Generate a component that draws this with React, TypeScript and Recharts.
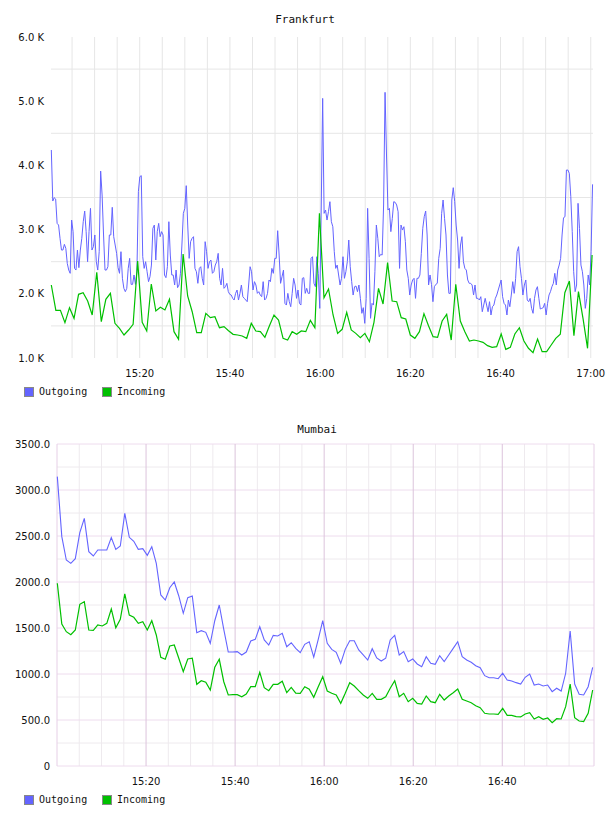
import React from 'react';
import { LineChart, Line, XAxis, YAxis, CartesianGrid, ReferenceLine } from 'recharts';

// ---------- shared labels ----------
const SERIES_NAMES = ['Outgoing', 'Incoming'];
const TIME_TICKS = [20, 40, 60, 80, 100, 120]; // minutes after 15:00
const TIME_TICK_LABELS = ['15:20', '15:40', '16:00', '16:20', '16:40', '17:00'];
const MINOR_TIMES = [5, 10, 15, 20, 25, 30, 35, 40, 45, 50, 55, 60, 65, 70, 75, 80, 85, 90, 95, 100, 105, 110, 115, 120];
const MUMBAI_MAJOR_TIMES = [20, 40, 60, 80, 100];
const MUMBAI_MINOR_TIMES = [5, 10, 15, 25, 30, 35, 45, 50, 55, 65, 70, 75, 85, 90, 95, 105, 110, 115];

// ---------- Frankfurt ----------
const FRANKFURT_Y_TICKS = [1000, 2000, 3000, 4000, 5000, 6000];
const FRANKFURT_Y_GRID = [1500, 2500, 3500, 4500, 5500];

const frankfurtOutFirstHour = [
  4240, 3445, 3497, 3476, 3097, 3071, 2864, 2682, 2682, 2770,
  2708, 2474, 2370, 2319, 3149, 2968, 2396, 2370, 2682, 2407,
  2682, 2864, 3123, 3289, 2968, 2500, 2968, 3331, 2682, 2734,
  2916, 2500, 2370, 2656, 3912, 3539, 2916, 2370, 2370, 2422,
  2916, 2916, 3347, 2890, 2760, 2630, 2407, 2319, 2656, 2241,
  2085, 2033, 2085, 2396, 2552, 2147, 2147, 2293, 2147, 2344,
  3591, 3824, 3840, 2578, 2396, 2500, 2344, 2189, 2267, 2448,
  3019, 3071, 2526, 2968, 3097, 2890, 2968, 2916, 2293, 2251,
  2422, 3123, 2604, 2293, 2293, 2137, 2370, 2095, 2137, 2319,
  2760, 3253, 3331, 3684, 3071, 2552, 2812, 2864, 2890, 2396,
  2344, 2163, 2396, 2422, 2241, 2137, 2812, 2656, 2396, 2500,
  2526, 2319, 2344, 2448, 2500, 2630, 2241, 2137, 2396, 2085,
  2111, 2163, 2033, 1991, 1981, 1929, 1903, 2007, 2059, 1903,
  2007, 2137, 1955, 1929, 1903, 1877, 2137, 2422, 2344, 2059,
  2189, 2137, 2007, 2033, 1981, 1955, 2189, 1903, 1929, 2007,
  2215, 2189, 2396, 2319, 2552, 2552, 2983, 2604, 2163, 2267,
  2370, 1851, 1825, 2007, 1877, 1799, 2007, 2241, 2137, 1929,
  2059, 1851, 1825, 2241, 2251, 2007, 2085, 2007, 2007, 2552,
  2578, 2163, 2111, 2578, 2319, 1773, 3305, 5044,
];
const frankfurtOutSecondHour = [
  3253, 3305, 3149, 3279, 3435, 3123, 3045, 2656, 2396, 2448,
  2293, 2137, 2241, 2578, 2241, 2344, 2500, 2838, 2422, 2189,
  1981, 2111, 2121, 2033, 2137, 1929, 1696, 1784, 1540, 1929,
  3331, 2552, 1618, 1851, 1825, 2344, 3071, 2864, 2578, 2614,
  2604, 3383, 5138, 4162, 3305, 3331, 2968, 3175, 3435, 3424,
  3383, 3279, 2396, 3071, 2993, 3045, 2812, 2370, 2241, 1981,
  2137, 2215, 2241, 1929, 2241, 2241, 2293, 2630, 3019, 3201,
  3289, 2916, 2137, 2293, 2147, 1877, 2111, 2147, 2163, 2552,
  2708, 3253, 3461, 3175, 2916, 2293, 2007, 2007, 3461, 3653,
  3435, 3071, 2838, 2396, 2760, 2890, 2500, 2396, 2370, 2215,
  2163, 2163, 2137, 1981, 2137, 1929, 1929, 1903, 1955, 1721,
  1825, 1929, 1825, 1721, 1877, 1670, 1799, 1825, 1929, 1981,
  2059, 2137, 2215, 1955, 1851, 1825, 1670, 1903, 1799, 1981,
  2189, 2007, 2241, 2656, 2734, 2422, 2241, 1981, 2137, 2215,
  1903, 1877, 1929, 1773, 1696, 1929, 2059, 2111, 1929, 1763,
  1773, 1784, 1851, 1670, 1851, 1981, 2033, 2111, 2163, 2319,
  2137, 2370, 2448, 2552, 2916, 3185, 3201, 3928, 3928, 3876,
  3513, 2968, 2344, 2033, 2137, 3409, 3019, 2448, 2344, 2137,
  1773, 1929, 2293, 2137, 2656, 3705,
];
const frankfurtInFirstHour = [
  2137, 1743, 1743, 1550, 1784, 1618, 1992, 2017, 1888, 1670,
  2335, 1566, 1914, 2007, 1540, 1462, 1358, 1436, 1524, 2511,
  1556, 1421, 2153, 1732, 1789, 1748, 1914, 1410, 1291, 2620,
  1966, 1721, 1394, 1394, 1696, 1628, 1643, 1472, 1488, 1425,
  1369, 1358, 1343, 1307, 1540, 1421, 1410, 1322, 1503, 1670,
  1592, 1307, 1280, 1410, 1369, 1421, 1410, 1587, 1472, 3254,
];
const frankfurtInSecondHour = [
  1939, 2075, 1670, 1384, 1447, 1712, 1436, 1384, 1317, 1384,
  1254, 1556, 2085, 1841, 2485, 1888, 1877, 1628, 1607, 1358,
  1307, 1410, 1691, 1503, 1332, 1322, 1576, 1680, 1280, 2148,
  1576, 1410, 1265, 1280, 1265, 1244, 1192, 1166, 1177, 1374,
  1135, 1166, 1374, 1472, 1265, 1151, 1083, 1296, 1099, 1099,
  1202, 1307, 1369, 2017, 2199, 1348, 2033, 1618, 1151, 2604,
];

// ---------- Mumbai ----------
const MUMBAI_Y_TICKS = [0, 500, 1000, 1500, 2000, 2500, 3000, 3500];
const MUMBAI_Y_MINOR = [250, 750, 1250, 1750, 2250, 2750, 3250];

const mumbaiOutFirstHour = [
  3145, 2493, 2239, 2203, 2254, 2536, 2692, 2330, 2283, 2348,
  2348, 2348, 2482, 2355, 2391, 2747, 2486, 2442, 2355, 2362,
  2290, 2384, 2203, 1859, 1804, 1938, 2000, 1848, 1660, 1830,
  1848, 1449, 1471, 1453, 1334, 1579, 1750, 1486, 1239, 1239,
  1243, 1207, 1239, 1359, 1377, 1514, 1370, 1315, 1420, 1413,
  1442, 1297, 1340, 1279, 1232, 1323, 1351, 1182, 1377, 1579,
];
const mumbaiOutSecondHour = [
  1333, 1268, 1236, 1116, 1268, 1362, 1362, 1261, 1207, 1152,
  1275, 1174, 1141, 1171, 1370, 1420, 1207, 1243, 1134, 1163,
  1109, 1080, 1188, 1116, 1105, 1199, 1134, 1207, 1279, 1351,
  1188, 1152, 1127, 1090, 1069, 982, 960, 960, 949, 1008,
  935, 924, 906, 891, 964, 1000, 880, 891, 870, 880,
  808, 845, 815, 1008, 1467, 891, 779, 772, 862, 1073,
];
const mumbaiInFirstHour = [
  1986, 1543, 1460, 1427, 1478, 1757, 1786, 1478, 1475, 1533,
  1522, 1551, 1707, 1503, 1594, 1870, 1641, 1616, 1551, 1569,
  1478, 1579, 1424, 1182, 1160, 1304, 1315, 1171, 1025, 1163,
  1171, 888, 927, 910, 826, 1073, 1160, 916, 772, 775,
  775, 753, 783, 862, 862, 1018, 851, 819, 888, 888,
  921, 797, 855, 793, 790, 862, 834, 747, 862, 971,
];
const mumbaiInSecondHour = [
  815, 790, 772, 681, 790, 906, 870, 819, 772, 736,
  790, 725, 725, 753, 845, 927, 753, 790, 699, 736,
  681, 674, 761, 699, 688, 779, 717, 761, 797, 837,
  725, 706, 688, 655, 634, 573, 565, 565, 562, 627,
  551, 551, 536, 533, 565, 580, 511, 536, 507, 522,
  471, 514, 511, 645, 891, 525, 489, 482, 573, 826,
];

// sample times (minutes after 15:00) of first and last sample of each series
const FRANKFURT_OUT_SPAN = [0.4, 120.4];
const FRANKFURT_IN_SPAN = [0.4, 120.3];
const MUMBAI_SPAN = [0.07, 120.3];

const series = (values: number[], span: number[]) =>
  values.map((v, i) => ({ t: span[0] + (i * (span[1] - span[0])) / (values.length - 1), v }));

const frankfurtOut = series([...frankfurtOutFirstHour, ...frankfurtOutSecondHour], FRANKFURT_OUT_SPAN);
const frankfurtIn = series([...frankfurtInFirstHour, ...frankfurtInSecondHour], FRANKFURT_IN_SPAN);
const mumbaiOut = series([...mumbaiOutFirstHour, ...mumbaiOutSecondHour], MUMBAI_SPAN);
const mumbaiIn = series([...mumbaiInFirstHour, ...mumbaiInSecondHour], MUMBAI_SPAN);

const OUT_COLOR = '#6464ff';
const IN_COLOR = '#00c000';

const timeLabel = (t: number) => {
  const i = TIME_TICKS.indexOf(t);
  return i >= 0 ? TIME_TICK_LABELS[i] : '';
};

const tickStyle = { fontSize: 10, fontFamily: 'DejaVu Sans', fill: '#111' };

const Title = ({ text, top, center }: { text: string; top: number; center: number }) => (
  <div
    style={{
      position: 'absolute', top, left: center - 100, width: 200, textAlign: 'center',
      fontFamily: 'DejaVu Sans Mono', fontSize: 11, lineHeight: '13px', color: '#111',
    }}
  >
    {text}
  </div>
);

const LegendBox = ({ top }: { top: number }) => {
  const items = [
    { name: SERIES_NAMES[0], color: OUT_COLOR, x: 24 },
    { name: SERIES_NAMES[1], color: IN_COLOR, x: 102 },
  ];
  return (
    <>
      {items.map((it) => (
        <React.Fragment key={it.name}>
          <div
            style={{
              position: 'absolute', top: top - 5, left: it.x, width: 8, height: 8,
              background: it.color, border: '1px solid #888',
            }}
          />
          <div
            style={{
              position: 'absolute', top: top - 7, left: it.x + 15, fontFamily: 'DejaVu Sans Mono',
              fontSize: 10, lineHeight: '13px', color: '#111', whiteSpace: 'nowrap',
            }}
          >
            {it.name}
          </div>
        </React.Fragment>
      ))}
    </>
  );
};

export default function App() {
  return (
    <div style={{ position: 'absolute', left: 0, top: 0, width: 608, height: 816, background: '#fff' }}>
      <Title text="Frankfurt" top={13} center={305} />
      <div style={{ position: 'absolute', left: 0, top: 0 }}>
        <LineChart width={608} height={390} margin={{ top: 37, right: 15, bottom: 12, left: 0 }}>
          <CartesianGrid
            stroke="#e6e6e6"
            horizontalValues={FRANKFURT_Y_GRID}
            verticalValues={MINOR_TIMES}
          />
          <XAxis
            dataKey="t" type="number" domain={[0.33, 120.5]} ticks={TIME_TICKS} interval={0}
            tickFormatter={timeLabel} axisLine={false} tickLine={false} tickSize={0} tickMargin={12}
            height={20} tick={tickStyle} allowDuplicatedCategory={false}
          />
          <YAxis
            type="number" domain={[1000, 6000]} ticks={FRANKFURT_Y_TICKS} interval={0}
            tickFormatter={(v: number) => `${(v / 1000).toFixed(1)} K`}
            axisLine={false} tickLine={false} tickSize={0} tickMargin={7} width={51} tick={tickStyle}
          />
          <Line data={frankfurtOut} dataKey="v" stroke={OUT_COLOR} strokeWidth={1} dot={false} isAnimationActive={false} name={SERIES_NAMES[0]} />
          <Line data={frankfurtIn} dataKey="v" stroke={IN_COLOR} strokeWidth={1.2} dot={false} isAnimationActive={false} name={SERIES_NAMES[1]} />
        </LineChart>
      </div>
      <LegendBox top={392} />

      <Title text="Mumbai" top={423} center={317} />
      <div style={{ position: 'absolute', left: 0, top: 400 }}>
        <LineChart width={608} height={390} margin={{ top: 44, right: 14, bottom: 4, left: 0 }}>
          <CartesianGrid
            stroke="#eeeaee"
            horizontalValues={MUMBAI_Y_MINOR}
            verticalValues={MUMBAI_MINOR_TIMES}
          />
          {MUMBAI_Y_TICKS.map((v) => (
            <ReferenceLine key={'h' + v} y={v} stroke="#eedcee" strokeWidth={1} ifOverflow="extendDomain" />
          ))}
          {MUMBAI_MAJOR_TIMES.map((t) => (
            <ReferenceLine key={'v' + t} x={t} stroke="#dcc4dc" strokeWidth={1} />
          ))}
          <ReferenceLine x={0} stroke="#e6cfe6" />
          <ReferenceLine x={120.6} stroke="#e6cfe6" />
          <XAxis
            dataKey="t" type="number" domain={[0, 120.6]} ticks={TIME_TICKS.slice(0, 5)} interval={0}
            tickFormatter={timeLabel} axisLine={false} tickLine={false} tickSize={0} tickMargin={12}
            height={20} tick={tickStyle} allowDuplicatedCategory={false}
          />
          <YAxis
            type="number" domain={[0, 3500]} ticks={MUMBAI_Y_TICKS} interval={0}
            tickFormatter={(v: number) => (v === 0 ? '0' : v.toFixed(1))}
            axisLine={false} tickLine={false} tickSize={0} tickMargin={7} width={57} tick={tickStyle}
          />
          <Line data={mumbaiOut} dataKey="v" stroke={OUT_COLOR} strokeWidth={1.1} dot={false} isAnimationActive={false} name={SERIES_NAMES[0]} />
          <Line data={mumbaiIn} dataKey="v" stroke={IN_COLOR} strokeWidth={1.2} dot={false} isAnimationActive={false} name={SERIES_NAMES[1]} />
        </LineChart>
      </div>
      <LegendBox top={800} />
    </div>
  );
}
